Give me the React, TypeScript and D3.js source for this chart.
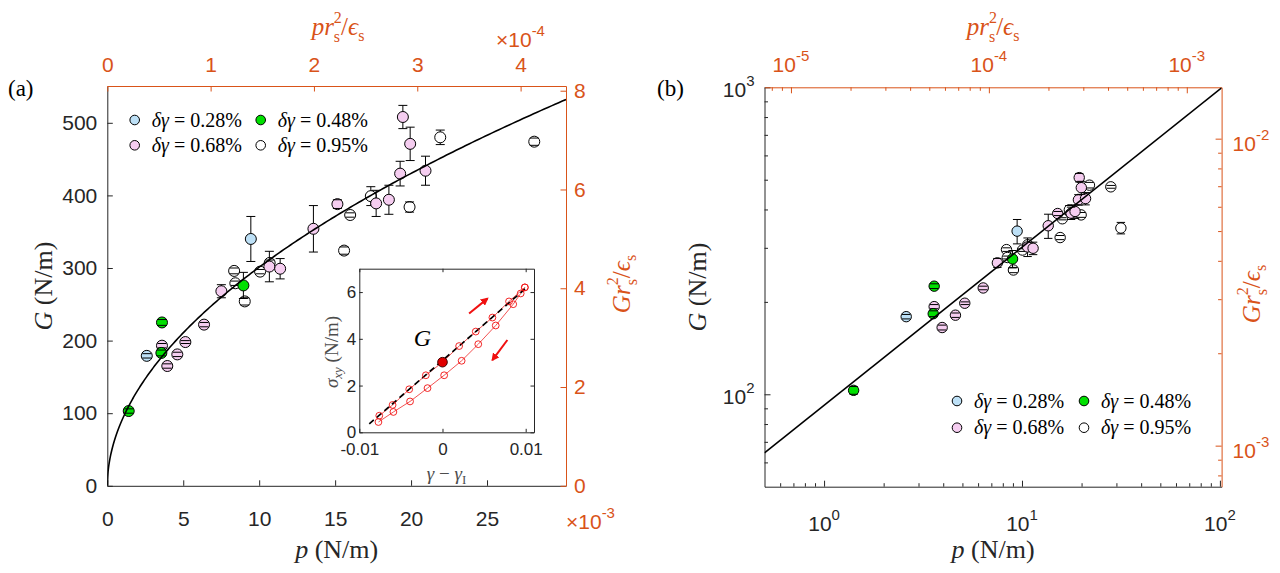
import React, { useEffect, useRef } from "react";
import * as d3 from "d3";

const W = 1280;
const H = 573;
const ORANGE = "#D95319";
const INK = "#262626";
const SANS = "'Liberation Sans', Arial, sans-serif";
const SERIF = "'Liberation Serif', 'DejaVu Serif', serif";

const PINK = "#f5cdf0";
const BLUE = "#bde0f6";
const GREEN = "#00e000";
const WHITE = "#ffffff";

// r_s^2 / eps_s : factor between the black and the orange axes
const SCALE_K = 1.47e-5;

// power-law fit G = FIT_A * p^FIT_B
const FIT_A = 92;
const FIT_B = 0.515;

// δγ = 0.28%
const p028 = [2.6, 9.45];
const g028 = [179, 340];
const e028 = [3, 31];

// δγ = 0.48%
const p048 = [1.41, 3.56, 3.6, 8.96];
const g048 = [103, 183, 225, 276];
const e048 = [3, 4, 4, 18];

// δγ = 0.68%
const p068 = [3.6, 3.95, 4.61, 5.14, 6.37, 7.51, 10.67, 11.38, 13.57, 15.15, 17.7, 18.54, 19.28, 19.46, 19.94, 20.95];
const g068 = [193, 165, 181, 198, 222, 268, 302, 299, 354, 388, 389, 394, 430, 508, 471, 434];
const e068 = [3, 3, 3, 2, 3, 9, 21, 14, 32, 6, 18, 20, 17, 16, 23, 20];

// δγ = 0.95%
const p095 = [8.35, 8.43, 9.05, 10.06, 10.69, 15.59, 15.99, 17.35, 19.9, 21.92, 28.11, 31.6];
const g095 = [296, 279, 254, 295, 307, 324, 373, 399, 384, 480, 474, 348];
const e095 = [4, 3, 5, 3, 4, 5, 3, 13, 7, 10, 5, 15];

// inset: stress-strain loop
const loadX = [-0.0076, -0.006, -0.004, -0.002, 0, 0.002, 0.004, 0.006, 0.008, 0.0099];
const loadY = [0.71, 1.17, 1.84, 2.44, 3.0, 3.69, 4.31, 4.91, 5.6, 6.2];
const unloadX = [0.0099, 0.0094, 0.0085, 0.0064, 0.0043, 0.0023, 0.0002, -0.0018, -0.0039, -0.0059, -0.0077];
const unloadY = [6.2, 5.94, 5.48, 4.57, 3.77, 3.06, 2.44, 1.89, 1.32, 0.87, 0.44];
const slopeX = [-0.0088, 0.0102];
const slopeY = [0.36, 6.22];
const markX = 0;
const markY = 3.0;
const arrowUp = [0.0032, 5.08, 0.0054, 5.72];
const arrowDown = [0.0078, 3.95, 0.006, 3.09];

// tick values
const xTicksA = [0, 5, 10, 15, 20, 25];
const yTicksA = [0, 100, 200, 300, 400, 500];
const topTicksA = [0, 1, 2, 3, 4];
const rightTicksA = [0, 2, 4, 6, 8];
const xTicksIn = [-0.01, 0, 0.01];
const yTicksIn = [0, 2, 4, 6];
const majX = [1, 10, 100];
const majY = [100, 1000];
const majXt = [1e-5, 1e-4, 1e-3];
const majYr = [1e-3, 1e-2];

interface Series {
  label: string;
  fill: string;
  p: number[];
  g: number[];
  e: number[];
}

const s028: Series = { label: "0.28", fill: BLUE, p: p028, g: g028, e: e028 };
const s048: Series = { label: "0.48", fill: GREEN, p: p048, g: g048, e: e048 };
const s068: Series = { label: "0.68", fill: PINK, p: p068, g: g068, e: e068 };
const s095: Series = { label: "0.95", fill: WHITE, p: p095, g: g095, e: e095 };

const drawOrder = [s095, s068, s028, s048];
const legendOrder = [s028, s048, s068, s095];

type Part = { t: string; it?: boolean; fs?: number; dx?: number; dy?: number };
type Sel = d3.Selection<any, unknown, null, undefined>;

function addParts(text: Sel, parts: Part[]) {
  parts.forEach((pt) => {
    const ts = text.append("tspan").text(pt.t);
    if (pt.it) ts.attr("font-style", "italic");
    if (pt.fs) ts.attr("font-size", pt.fs);
    if (pt.dx) ts.attr("dx", pt.dx);
    if (pt.dy) ts.attr("dy", pt.dy);
  });
}

// "X r_s^2 / eps_s" with the 2 stacked over the s
const rsLabel = (lead: string, fs: number): Part[] => {
  const small = 16;
  return [
    { t: lead + "r", it: true, fs },
    { t: "2", fs: small, dy: -12 },
    { t: "s", fs: small, dx: -8, dy: 19 },
    { t: "/", fs, dx: 1, dy: -7 },
    { t: "ϵ", it: true, fs },
    { t: "s", fs: small, dy: 6 },
  ];
};
const unitLabel = (v: string): Part[] => [{ t: v, it: true }, { t: " (N/m)" }];

function logMinors(lo: number, hi: number) {
  const out: number[] = [];
  for (let e = Math.floor(Math.log10(lo)); e <= Math.ceil(Math.log10(hi)); e++) {
    for (let m = 2; m <= 9; m++) {
      const v = m * Math.pow(10, e);
      if (v > lo * 1.0001 && v < hi * 0.9999) out.push(v);
    }
  }
  return out;
}

function styleAxis(g: Sel, color: string, fs: number) {
  g.attr("font-size", fs).attr("font-family", SANS).style("color", color);
}

// "10^n" tick label
function powLabel(g: Sel, x: number, y: number, exp: number, anchor: string, color: string) {
  const t = g
    .append("text")
    .attr("x", x)
    .attr("y", y)
    .attr("text-anchor", anchor)
    .attr("font-family", SANS)
    .attr("font-size", 21)
    .attr("fill", color);
  t.append("tspan").text("10");
  t.append("tspan").attr("font-size", 15).attr("dy", -11).text(String(exp));
}

function drawPoints(g: Sel, x: (v: number) => number, y: (v: number) => number, r: number, cap: number) {
  drawOrder.forEach((s) => {
    const grp = g.append("g");
    const idx = s.p.map((_, i) => i);
    grp
      .selectAll("line.bar")
      .data(idx)
      .join("line")
      .attr("class", "bar")
      .attr("x1", (i) => x(s.p[i]))
      .attr("x2", (i) => x(s.p[i]))
      .attr("y1", (i) => y(s.g[i] + s.e[i]))
      .attr("y2", (i) => y(s.g[i] - s.e[i]))
      .attr("stroke", "#000")
      .attr("stroke-width", 1);
    grp
      .selectAll("circle")
      .data(idx)
      .join("circle")
      .attr("cx", (i) => x(s.p[i]))
      .attr("cy", (i) => y(s.g[i]))
      .attr("r", r)
      .attr("fill", s.fill)
      .attr("stroke", "#000")
      .attr("stroke-width", 1);
    [1, -1].forEach((sgn) => {
      grp
        .selectAll(`line.cap${sgn > 0 ? "u" : "d"}`)
        .data(idx)
        .join("line")
        .attr("class", `cap${sgn > 0 ? "u" : "d"}`)
        .attr("x1", (i) => x(s.p[i]) - cap)
        .attr("x2", (i) => x(s.p[i]) + cap)
        .attr("y1", (i) => y(s.g[i] + sgn * s.e[i]))
        .attr("y2", (i) => y(s.g[i] + sgn * s.e[i]))
        .attr("stroke", "#000")
        .attr("stroke-width", 1);
    });
  });
}

function drawLegend(g: Sel, x0: number, x1: number, y0: number, dy: number, fs: number) {
  legendOrder.forEach((s, k) => {
    const cx = k % 2 === 0 ? x0 : x1;
    const cy = y0 + Math.floor(k / 2) * dy;
    g.append("circle").attr("cx", cx).attr("cy", cy).attr("r", 4.8).attr("fill", s.fill).attr("stroke", "#000");
    const t = g
      .append("text")
      .attr("x", cx + 17)
      .attr("y", cy + 6.5)
      .attr("font-family", SERIF)
      .attr("font-size", fs)
      .attr("fill", "#000");
    addParts(t, [{ t: "δγ", it: true }, { t: " = " }, { t: `${s.label}%` }]);
  });
}

const App: React.FC = () => {
  const svgRef = useRef<SVGSVGElement>(null);

  useEffect(() => {
    if (!svgRef.current) return;
    const svg = d3.select(svgRef.current);
    svg.selectAll("*").remove();
    const defs = svg.append("defs");

    // ---------------- panel (a) ----------------
    const xA = d3.scaleLinear().domain([0, 30.2]).range([107.3, 566]);
    const yA = d3.scaleLinear().domain([0, 550.7]).range([485.8, 86]);
    const xAt = d3.scaleLinear().domain(xA.domain().map((v) => v * SCALE_K * 1e4)).range(xA.range());
    const yAr = d3.scaleLinear().domain(yA.domain().map((v) => v * SCALE_K * 1e3)).range(yA.range());
    const intFmt = d3.format("d");

    defs
      .append("clipPath")
      .attr("id", "clipA")
      .append("rect")
      .attr("x", xA.range()[0])
      .attr("y", yA.range()[1])
      .attr("width", xA.range()[1] - xA.range()[0])
      .attr("height", yA.range()[0] - yA.range()[1]);

    const a = svg.append("g");

    const axB = a
      .append("g")
      .attr("transform", `translate(0,${yA.range()[0]})`)
      .call(d3.axisBottom(xA).tickValues(xTicksA).tickSize(-5.5).tickSizeOuter(0).tickPadding(25).tickFormat(intFmt));
    styleAxis(axB, INK, 21);
    const axL = a
      .append("g")
      .attr("transform", `translate(${xA.range()[0]},0)`)
      .call(d3.axisLeft(yA).tickValues(yTicksA).tickSize(-5.5).tickSizeOuter(0).tickPadding(10).tickFormat(intFmt));
    styleAxis(axL, INK, 21);
    const axT = a
      .append("g")
      .attr("transform", `translate(0,${yA.range()[1]})`)
      .call(d3.axisTop(xAt).tickValues(topTicksA).tickSize(-5.5).tickSizeOuter(0).tickPadding(14).tickFormat(intFmt));
    styleAxis(axT, ORANGE, 21);
    const axR = a
      .append("g")
      .attr("transform", `translate(${xA.range()[1]},0)`)
      .call(d3.axisRight(yAr).tickValues(rightTicksA).tickSize(-5.5).tickSizeOuter(0).tickPadding(8).tickFormat(intFmt));
    styleAxis(axR, ORANGE, 21);

    const plotA = a.append("g").attr("clip-path", "url(#clipA)");
    drawPoints(plotA, xA, yA, 5.5, 4.5);

    const fitP = d3.range(0, 1.0001, 0.004).map((t) => xA.domain()[1] * t * t);
    plotA
      .append("path")
      .attr(
        "d",
        d3
          .line<number>()
          .x((p) => xA(p))
          .y((p) => yA(FIT_A * Math.pow(p, FIT_B)))(fitP)
      )
      .attr("fill", "none")
      .attr("stroke", "#000")
      .attr("stroke-width", 1.6);

    drawLegend(a.append("g"), 134.7, 260.7, 120, 25.3, 20);

    // labels (a)
    a.append("text").attr("x", 8).attr("y", 96).attr("font-family", SERIF).attr("font-size", 23).text("(a)");
    addParts(
      a
        .append("text")
        .attr("x", (xA.range()[0] + xA.range()[1]) / 2)
        .attr("y", 558)
        .attr("text-anchor", "middle")
        .attr("font-family", SERIF)
        .attr("font-size", 26)
        .attr("fill", INK),
      unitLabel("p")
    );
    addParts(
      a
        .append("text")
        .attr("transform", `translate(52,286) rotate(-90)`)
        .attr("text-anchor", "middle")
        .attr("font-family", SERIF)
        .attr("font-size", 26)
        .attr("fill", INK),
      unitLabel("G")
    );
    addParts(
      a
        .append("text")
        .attr("transform", `translate(630,284) rotate(-90)`)
        .attr("text-anchor", "middle")
        .attr("font-family", SERIF)
        .attr("fill", ORANGE),
      rsLabel("G", 25)
    );
    addParts(
      a
        .append("text")
        .attr("x", 338)
        .attr("y", 35)
        .attr("text-anchor", "middle")
        .attr("font-family", SERIF)
        .attr("fill", ORANGE),
      rsLabel("p", 25)
    );
    const m4 = a.append("text").attr("x", 496).attr("y", 47).attr("font-family", SANS).attr("font-size", 21).attr("fill", ORANGE);
    addParts(m4, [{ t: "×10" }, { t: "-4", fs: 15, dy: -11 }]);
    const m3 = a.append("text").attr("x", 566).attr("y", 529).attr("font-family", SANS).attr("font-size", 21).attr("fill", ORANGE);
    addParts(m3, [{ t: "×10" }, { t: "-3", fs: 15, dy: -11 }]);

    // ---------------- inset ----------------
    const xI = d3.scaleLinear().domain([-0.01, 0.011]).range([359.3, 534]);
    const yI = d3.scaleLinear().domain([0, 7]).range([432.3, 268.7]);
    const ins = svg.append("g");
    ins
      .append("rect")
      .attr("x", xI.range()[0])
      .attr("y", yI.range()[1])
      .attr("width", xI.range()[1] - xI.range()[0])
      .attr("height", yI.range()[0] - yI.range()[1])
      .attr("fill", "#fff");
    const iB = ins
      .append("g")
      .attr("transform", `translate(0,${yI.range()[0]})`)
      .call(
        d3
          .axisBottom(xI)
          .tickValues(xTicksIn)
          .tickSize(-3.5)
          .tickSizeOuter(0)
          .tickPadding(11)
          .tickFormat((d) => String(d))
      );
    styleAxis(iB, INK, 17);
    const iL = ins
      .append("g")
      .attr("transform", `translate(${xI.range()[0]},0)`)
      .call(d3.axisLeft(yI).tickValues(yTicksIn).tickSize(-3.5).tickSizeOuter(0).tickPadding(3).tickFormat(intFmt));
    styleAxis(iL, INK, 17);
    const iT = ins
      .append("g")
      .attr("transform", `translate(0,${yI.range()[1]})`)
      .call(d3.axisTop(xI).tickValues(xTicksIn).tickSize(-3.5).tickSizeOuter(0).tickFormat(() => ""));
    styleAxis(iT, INK, 17);
    const iR = ins
      .append("g")
      .attr("transform", `translate(${xI.range()[1]},0)`)
      .call(d3.axisRight(yI).tickValues(yTicksIn).tickSize(-3.5).tickSizeOuter(0).tickFormat(() => ""));
    styleAxis(iR, INK, 17);

    const branch = (xs: number[], ys: number[]) =>
      d3
        .line<number>()
        .x((i) => xI(xs[i]))
        .y((i) => yI(ys[i]))(xs.map((_, i) => i));
    const branches: [number[], number[]][] = [
      [loadX, loadY],
      [unloadX, unloadY],
    ];
    branches.forEach(([xs, ys]) => {
      ins.append("path").attr("d", branch(xs, ys)).attr("fill", "none").attr("stroke", "#f04040").attr("stroke-width", 0.9);
    });
    ins
      .append("path")
      .attr("d", branch(slopeX, slopeY))
      .attr("fill", "none")
      .attr("stroke", "#000")
      .attr("stroke-width", 1.7)
      .attr("stroke-dasharray", "6,4");
    branches.forEach(([xs, ys]) => {
      ins
        .append("g")
        .selectAll("circle")
        .data(xs.map((_, i) => i))
        .join("circle")
        .attr("cx", (i) => xI(xs[i]))
        .attr("cy", (i) => yI(ys[i]))
        .attr("r", 3.4)
        .attr("fill", "none")
        .attr("stroke", "#f01010")
        .attr("stroke-width", 0.9);
    });
    ins
      .append("circle")
      .attr("cx", xI(markX))
      .attr("cy", yI(markY))
      .attr("r", 4.8)
      .attr("fill", "#e00000")
      .attr("stroke", "#400000")
      .attr("stroke-width", 1);

    // arrows
    defs
      .append("marker")
      .attr("id", "head")
      .attr("viewBox", "0 0 10 10")
      .attr("refX", 8)
      .attr("refY", 5)
      .attr("markerWidth", 4)
      .attr("markerHeight", 4)
      .attr("orient", "auto")
      .append("path")
      .attr("d", "M0,0 L10,5 L0,10 z")
      .attr("fill", "#f01010");
    [arrowUp, arrowDown].forEach((ar) => {
      ins
        .append("line")
        .attr("x1", xI(ar[0]))
        .attr("y1", yI(ar[1]))
        .attr("x2", xI(ar[2]))
        .attr("y2", yI(ar[3]))
        .attr("stroke", "#f01010")
        .attr("stroke-width", 2)
        .attr("marker-end", "url(#head)");
    });
    ins
      .append("text")
      .attr("x", xI(-0.0024))
      .attr("y", yI(4.05) + 8)
      .attr("text-anchor", "middle")
      .attr("font-family", SERIF)
      .attr("font-style", "italic")
      .attr("font-size", 24)
      .text("G");
    addParts(
      ins
        .append("text")
        .attr("transform", `translate(338,352) rotate(-90)`)
        .attr("text-anchor", "middle")
        .attr("font-family", SERIF)
        .attr("font-size", 19)
        .attr("fill", "#4d4d4d"),
      [{ t: "σ", it: true }, { t: "xy", it: true, fs: 13, dy: 4 }, { t: " (N/m)", dy: -4 }]
    );
    addParts(
      ins
        .append("text")
        .attr("x", (xI.range()[0] + xI.range()[1]) / 2)
        .attr("y", 480)
        .attr("text-anchor", "middle")
        .attr("font-family", SERIF)
        .attr("font-size", 19)
        .attr("fill", "#4d4d4d"),
      [{ t: "γ", it: true }, { t: " − " }, { t: "γ", it: true }, { t: "I", fs: 13, dy: 4 }]
    );

    // ---------------- panel (b) ----------------
    const xB = d3.scaleLog().domain([0.5, 102]).range([764.5, 1221.6]);
    const yB = d3.scaleLog().domain([50, 1000]).range([486.7, 87.3]);
    const xBt = d3.scaleLog().domain(xB.domain().map((v) => v * SCALE_K)).range(xB.range());
    const yBr = d3.scaleLog().domain(yB.domain().map((v) => v * SCALE_K)).range(yB.range());

    defs
      .append("clipPath")
      .attr("id", "clipB")
      .append("rect")
      .attr("x", xB.range()[0])
      .attr("y", yB.range()[1])
      .attr("width", xB.range()[1] - xB.range()[0])
      .attr("height", yB.range()[0] - yB.range()[1]);

    const b = svg.append("g");

    const logAxis = (
      make: (s: any) => d3.Axis<number>,
      scale: any,
      major: number[],
      transform: string,
      color: string
    ) => {
      const g1 = b
        .append("g")
        .attr("transform", transform)
        .call(make(scale).tickValues(major).tickSize(-6).tickSizeOuter(0).tickFormat(() => ""));
      styleAxis(g1, color, 20);
      const dom = scale.domain();
      const minors = logMinors(dom[0], dom[1]).filter((v) => major.indexOf(v) < 0);
      const g2 = b
        .append("g")
        .attr("transform", transform)
        .call(make(scale).tickValues(minors).tickSize(-3.5).tickSizeOuter(0).tickFormat(() => ""));
      styleAxis(g2, color, 20);
      g2.select(".domain").remove();
    };
    logAxis((s) => d3.axisBottom(s), xB, majX, `translate(0,${yB.range()[0]})`, INK);
    logAxis((s) => d3.axisLeft(s), yB, majY, `translate(${xB.range()[0]},0)`, INK);
    logAxis((s) => d3.axisTop(s), xBt, majXt, `translate(0,${yB.range()[1]})`, ORANGE);
    logAxis((s) => d3.axisRight(s), yBr, majYr, `translate(${xB.range()[1]},0)`, ORANGE);

    majX.forEach((v) => powLabel(b, xB(v), 531, Math.round(Math.log10(v)), "middle", INK));
    majY.forEach((v) => powLabel(b, xB.range()[0] - 10, yB(v) + 10, Math.round(Math.log10(v)), "end", INK));
    majXt.forEach((v) => powLabel(b, xBt(v), 72, Math.round(Math.log10(v)), "middle", ORANGE));
    majYr.forEach((v) => powLabel(b, xB.range()[1] + 11, yBr(v) + 12, Math.round(Math.log10(v)), "start", ORANGE));

    const plotB = b.append("g").attr("clip-path", "url(#clipB)");
    drawPoints(plotB, xB, yB, 5.2, 4.2);
    plotB
      .append("path")
      .attr(
        "d",
        d3
          .line<number>()
          .x((p) => xB(p))
          .y((p) => yB(FIT_A * Math.pow(p, FIT_B)))(xB.domain())
      )
      .attr("fill", "none")
      .attr("stroke", "#000")
      .attr("stroke-width", 1.6);

    drawLegend(b.append("g"), 957, 1084, 401, 26.7, 20);

    b.append("text").attr("x", 657).attr("y", 96).attr("font-family", SERIF).attr("font-size", 23).text("(b)");
    addParts(
      b
        .append("text")
        .attr("x", (xB.range()[0] + xB.range()[1]) / 2)
        .attr("y", 558)
        .attr("text-anchor", "middle")
        .attr("font-family", SERIF)
        .attr("font-size", 26)
        .attr("fill", INK),
      unitLabel("p")
    );
    addParts(
      b
        .append("text")
        .attr("transform", `translate(706,287) rotate(-90)`)
        .attr("text-anchor", "middle")
        .attr("font-family", SERIF)
        .attr("font-size", 26)
        .attr("fill", INK),
      unitLabel("G")
    );
    addParts(
      b
        .append("text")
        .attr("transform", `translate(1260,294) rotate(-90)`)
        .attr("text-anchor", "middle")
        .attr("font-family", SERIF)
        .attr("fill", ORANGE),
      rsLabel("G", 25)
    );
    addParts(
      b
        .append("text")
        .attr("x", (xB.range()[0] + xB.range()[1]) / 2)
        .attr("y", 35)
        .attr("text-anchor", "middle")
        .attr("font-family", SERIF)
        .attr("fill", ORANGE),
      rsLabel("p", 25)
    );
  }, []);

  return (
    <svg
      ref={svgRef}
      width={W}
      height={H}
      viewBox={`0 0 ${W} ${H}`}
      style={{ position: "absolute", left: 0, top: 0, background: "#fff" }}
    ></svg>
  );
};

export default App;
